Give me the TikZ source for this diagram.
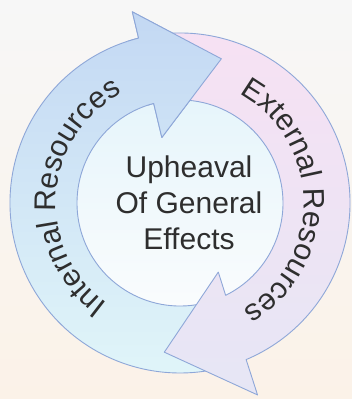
\documentclass[tikz,border=0pt]{standalone}
\usepackage{fontspec}
\setmainfont{Liberation Sans}
\usepackage{xcolor}
\usetikzlibrary{decorations.text}

\definecolor{bgtop}{HTML}{F7F7F7}
\definecolor{bgbot}{HTML}{FBF2E8}
\definecolor{bluetop}{HTML}{C3D8F3}
\definecolor{bluebot}{HTML}{E0F5F9}
\definecolor{pinktop}{HTML}{F7E1F3}
\definecolor{pinkbot}{HTML}{E6E6F5}
\definecolor{hubtop}{HTML}{E6F5FB}
\definecolor{hubbot}{HTML}{FAFCFD}
\definecolor{rim}{HTML}{8EA7D8}
\definecolor{txtgray}{HTML}{2E2E2E}

\newcommand{\ringfont}{\fontsize{30}{36}\selectfont}
\newcommand{\bluepath}{(288:103pt) arc[start angle=288,end angle=104.8,radius=103pt] -- (105.5:68pt) -- (74:150pt) -- (104:197pt) -- (104.1:170pt) arc[start angle=104.1,end angle=288,radius=170pt] -- cycle}

\begin{document}
\begin{tikzpicture}[
    rimline/.style={draw=rim,line width=0.9pt,line join=round},
    bluearrow/.style={rimline,top color=bluetop,bottom color=bluebot},
    pinkarrow/.style={rimline,top color=pinktop,bottom color=pinkbot},
    ringtext/.style={decorate,decoration={text along path,text align=center,text color=txtgray,text={|\ringfont|#1}}}
  ]
    \shade[top color=bgtop,bottom color=bgbot] (0,0) rectangle (352pt,399pt);
    \useasboundingbox (0,0) rectangle (352pt,399pt);
    \coordinate (c) at (180pt,196pt);
    \begin{scope}[shift={(c)}]
        \fill[top color=hubtop,bottom color=hubbot] (0,0) circle[radius=104pt];
        \path[bluearrow] \bluepath;
        \path[pinkarrow] (100:103pt) arc[start angle=100,end angle=-63.7,radius=103pt] -- (-61:79pt) -- (-96:150pt) -- (-68:207pt) -- (-67.1:170pt) arc[start angle=-67.1,end angle=100,radius=170pt] -- cycle;
        \begin{scope}
            \clip (0,0) -- (108:260pt) arc[start angle=108,end angle=55,radius=260pt] -- cycle;
            \path[bluearrow] \bluepath;
        \end{scope}
        \path[ringtext=Internal Resources] (251:124pt) arc[start angle=251,end angle=101,radius=124pt];
        \path[ringtext=External Resources] (76:124pt) arc[start angle=76,end angle=-74,radius=124pt];
    \end{scope}
    \node[align=center,inner sep=0pt,text=txtgray,font=\fontsize{30}{36}\selectfont] (hub) at (189pt,196pt) {Upheaval\\Of General\\Effects};
\end{tikzpicture}
\end{document}
